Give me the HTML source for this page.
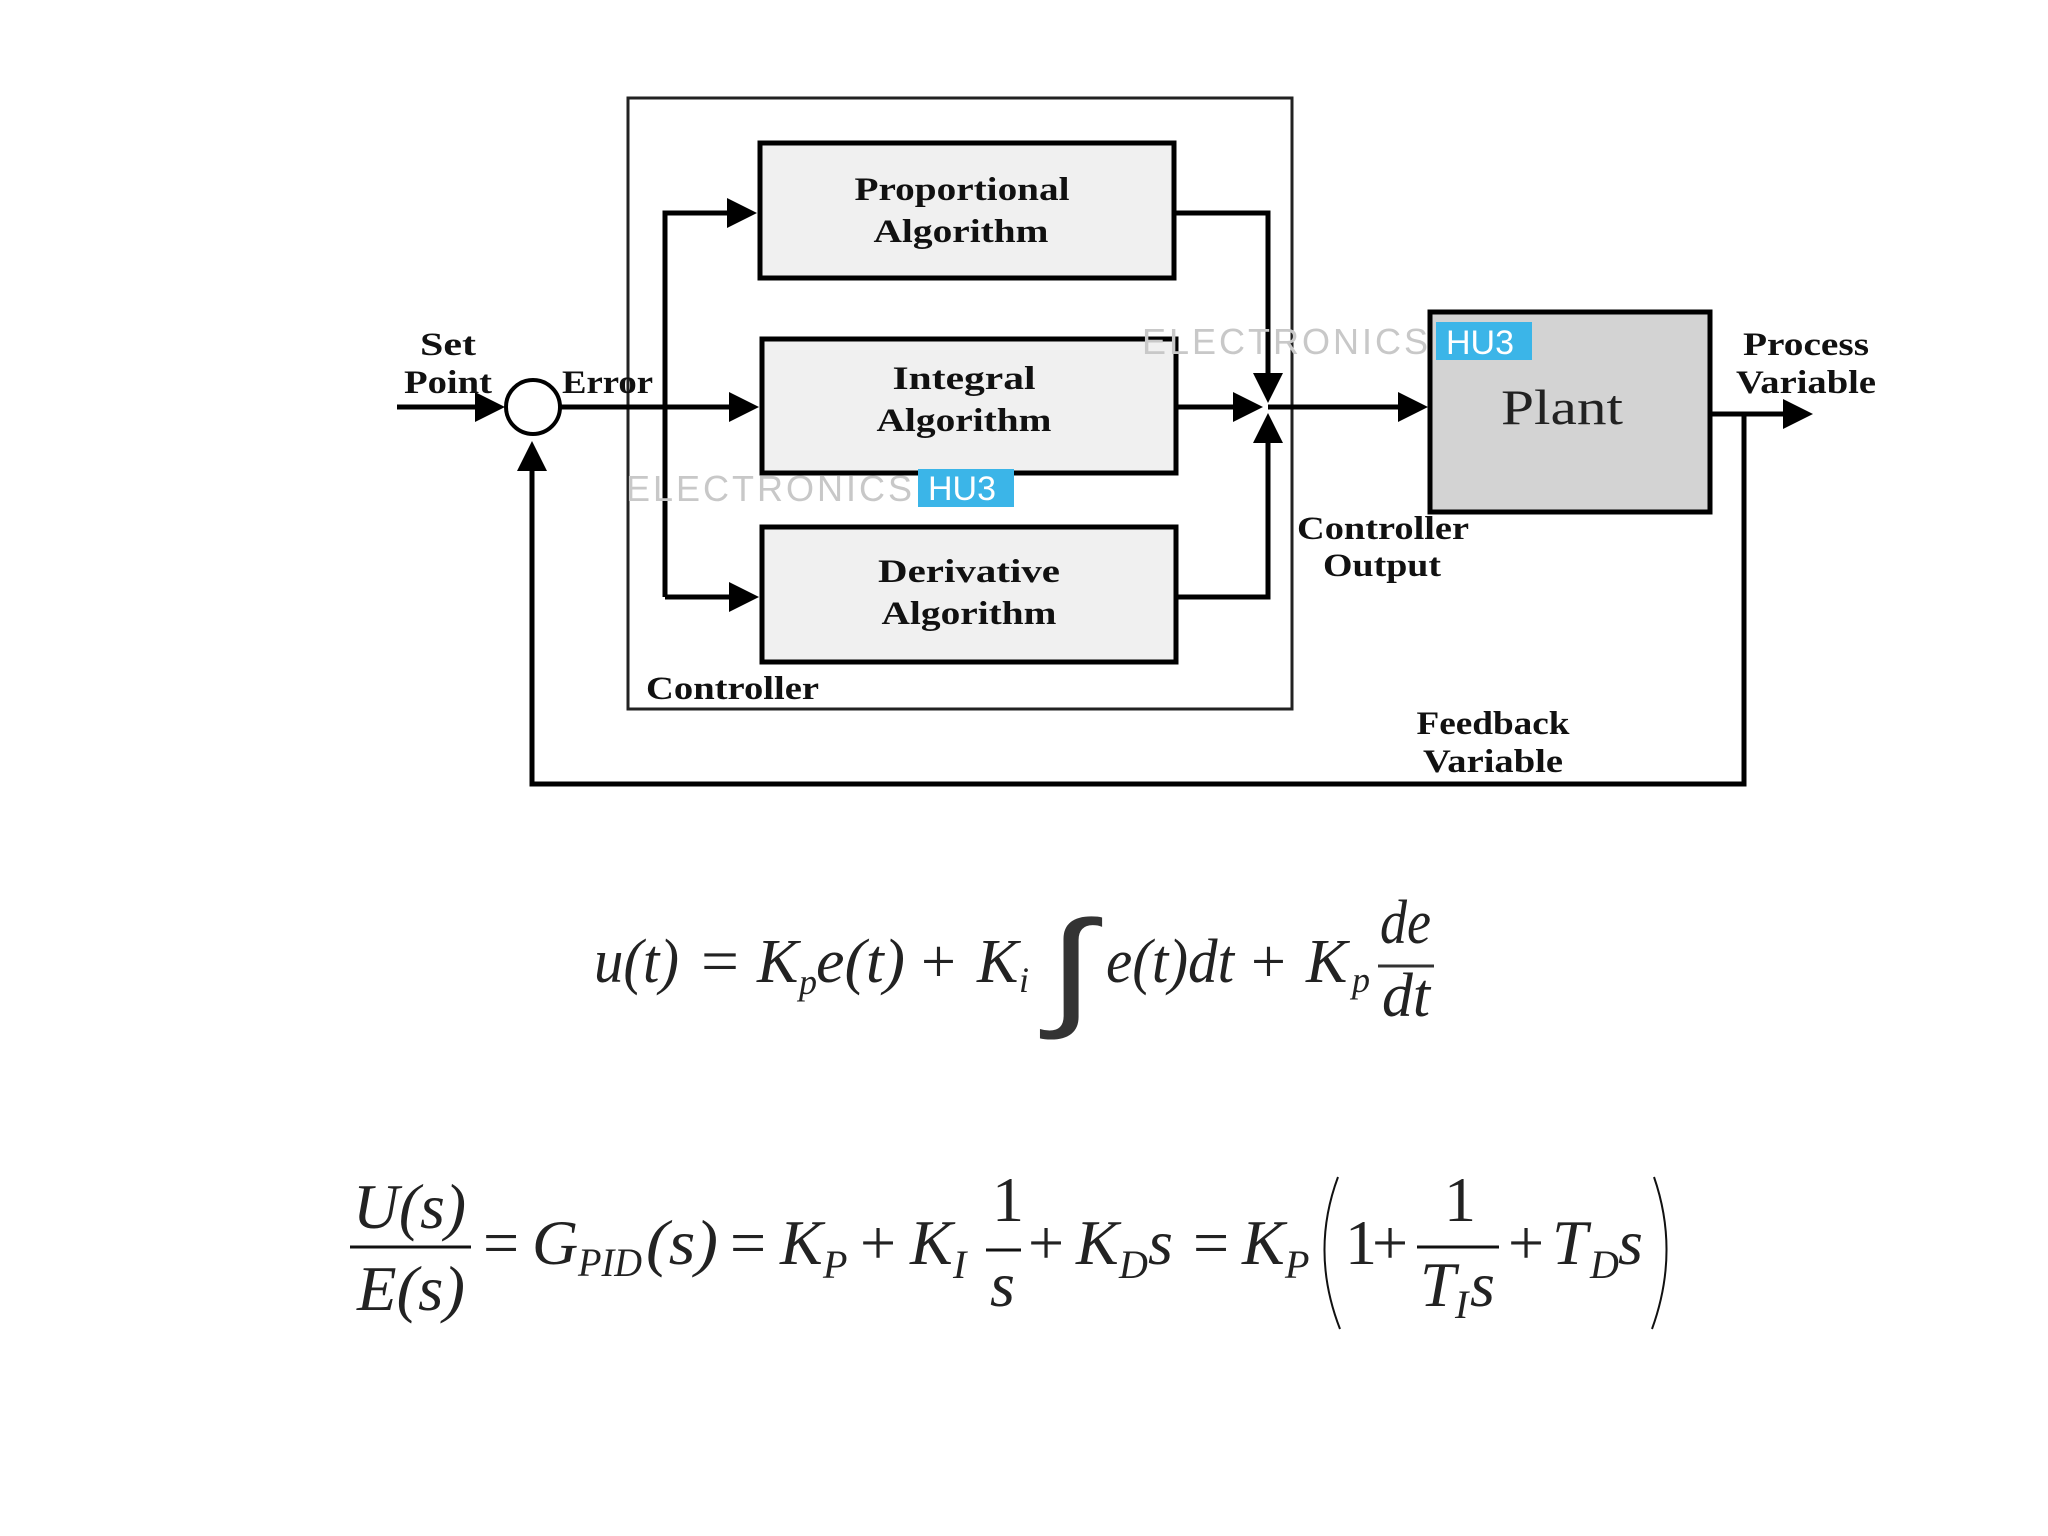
<!DOCTYPE html>
<html><head><meta charset="utf-8"><style>
html,body{margin:0;padding:0;background:#fff;width:2048px;height:1536px;overflow:hidden}
svg{display:block}
.b{font-family:"Liberation Serif",serif;font-weight:bold;fill:#111}
.m{font-family:"Liberation Serif",serif;font-style:italic;fill:#222}
.r{font-family:"Liberation Serif",serif;font-style:normal;fill:#222}
</style></head><body>
<svg width="2048" height="1536" viewBox="0 0 2048 1536" xmlns="http://www.w3.org/2000/svg">
<defs><marker id="a" markerWidth="6" markerHeight="6" refX="5" refY="3" orient="auto" markerUnits="strokeWidth"><path d="M0,0 L6,3 L0,6 z" fill="#000"/></marker></defs>
<rect x="628" y="98" width="664" height="611" fill="none" stroke="#222" stroke-width="3"/>
<rect x="760" y="143" width="414" height="135" fill="#f0f0f0" stroke="#000" stroke-width="5"/>
<rect x="762" y="339" width="414" height="134" fill="#f0f0f0" stroke="#000" stroke-width="5"/>
<rect x="762" y="527" width="414" height="135" fill="#f0f0f0" stroke="#000" stroke-width="5"/>
<rect x="1430" y="312" width="280" height="200" fill="#d3d3d3" stroke="#000" stroke-width="5"/>
<circle cx="533" cy="407" r="27" fill="#fff" stroke="#000" stroke-width="4"/>
<g stroke="#000" stroke-width="5" fill="none">
<line x1="397" y1="407" x2="500" y2="407" marker-end="url(#a)"/>
<line x1="560" y1="407" x2="754" y2="407" marker-end="url(#a)"/>
<polyline points="665,597 665,213 752,213" marker-end="url(#a)"/>
<line x1="665" y1="597" x2="754" y2="597" marker-end="url(#a)"/>
<polyline points="1176,213 1268,213 1268,398" marker-end="url(#a)"/>
<polyline points="1178,597 1268,597 1268,418" marker-end="url(#a)"/>
<line x1="1178" y1="407" x2="1258" y2="407" marker-end="url(#a)"/>
<line x1="1268" y1="407" x2="1423" y2="407" marker-end="url(#a)"/>
<line x1="1712" y1="414" x2="1808" y2="414" marker-end="url(#a)"/>
<polyline points="1744,414 1744,784 532,784 532,446" marker-end="url(#a)"/>
</g>
<text x="1142" y="354" font-family="Liberation Sans,sans-serif" font-size="36" fill="#c8c8c8" letter-spacing="3">ELECTRONICS</text>
<rect x="1436" y="322" width="96" height="38" fill="#3bb5e8"/>
<text x="1446" y="354" font-family="Liberation Sans,sans-serif" font-size="34" fill="#fff">HU3</text>
<text x="626" y="501" font-family="Liberation Sans,sans-serif" font-size="36" fill="#c8c8c8" letter-spacing="3">ELECTRONICS</text>
<rect x="918" y="469" width="96" height="38" fill="#3bb5e8"/>
<text x="928" y="500" font-family="Liberation Sans,sans-serif" font-size="34" fill="#fff">HU3</text>
<g class="b" font-size="33" text-anchor="middle">
<text x="962" y="200" textLength="215" lengthAdjust="spacingAndGlyphs">Proportional</text>
<text x="961" y="242" textLength="175" lengthAdjust="spacingAndGlyphs">Algorithm</text>
<text x="964" y="389" textLength="143" lengthAdjust="spacingAndGlyphs">Integral</text>
<text x="964" y="431" textLength="175" lengthAdjust="spacingAndGlyphs">Algorithm</text>
<text x="969" y="582" textLength="182" lengthAdjust="spacingAndGlyphs">Derivative</text>
<text x="969" y="624" textLength="175" lengthAdjust="spacingAndGlyphs">Algorithm</text>
<text x="448" y="355" textLength="56" lengthAdjust="spacingAndGlyphs">Set</text>
<text x="448" y="393" textLength="88" lengthAdjust="spacingAndGlyphs">Point</text>
<text x="1806" y="355" textLength="126" lengthAdjust="spacingAndGlyphs">Process</text>
<text x="1806" y="393" textLength="140" lengthAdjust="spacingAndGlyphs">Variable</text>
<text x="1382" y="576" textLength="118" lengthAdjust="spacingAndGlyphs">Output</text>
<text x="1493" y="734" textLength="153" lengthAdjust="spacingAndGlyphs">Feedback</text>
<text x="1493" y="772" textLength="140" lengthAdjust="spacingAndGlyphs">Variable</text>
</g>
<g class="b" font-size="33">
<text x="562" y="393" textLength="91" lengthAdjust="spacingAndGlyphs">Error</text>
<text x="1297" y="539" textLength="172" lengthAdjust="spacingAndGlyphs">Controller</text>
<text x="646" y="699" textLength="173" lengthAdjust="spacingAndGlyphs">Controller</text>
</g>
<text x="1562" y="424" class="r" font-size="50" text-anchor="middle" fill="#111" textLength="122" lengthAdjust="spacingAndGlyphs">Plant</text>
<g class="m" font-size="62" fill="#333">
<text x="594" y="982" textLength="85" lengthAdjust="spacingAndGlyphs">u(t)</text>
<text x="701" y="982" class="r" textLength="38" lengthAdjust="spacingAndGlyphs" fill="#777">=</text>
<text x="757" y="982">K</text>
<text x="799" y="994" font-size="36">p</text>
<text x="816" y="982" textLength="89" lengthAdjust="spacingAndGlyphs">e(t)</text>
<text x="921" y="982" class="r">+</text>
<text x="977" y="982">K</text>
<text x="1019" y="992" font-size="36">i</text>
<text x="1048" y="1012" font-size="130" font-family="DejaVu Sans,sans-serif" font-style="normal" font-weight="200" fill="#333" textLength="46" lengthAdjust="spacingAndGlyphs">∫</text>
<text x="1106" y="982" textLength="128" lengthAdjust="spacingAndGlyphs">e(t)dt</text>
<text x="1251" y="982" class="r">+</text>
<text x="1306" y="982">K</text>
<text x="1352" y="992" font-size="36">p</text>
<text x="1380" y="943" textLength="51" lengthAdjust="spacingAndGlyphs">de</text>
<text x="1382" y="1016" textLength="48" lengthAdjust="spacingAndGlyphs">dt</text>
</g>
<line x1="1378" y1="966" x2="1434" y2="966" stroke="#333" stroke-width="3"/>
<g class="m" font-size="64" fill="#111">
<text x="353" y="1228" textLength="113" lengthAdjust="spacingAndGlyphs">U(s)</text>
<text x="357" y="1310" textLength="108" lengthAdjust="spacingAndGlyphs">E(s)</text>
<text x="483" y="1264" class="r">=</text>
<text x="532" y="1264">G</text>
<text x="578" y="1276" font-size="40" textLength="64" lengthAdjust="spacingAndGlyphs">PID</text>
<text x="646" y="1264" textLength="72" lengthAdjust="spacingAndGlyphs">(s)</text>
<text x="730" y="1264" class="r">=</text>
<text x="780" y="1264">K</text>
<text x="823" y="1278" font-size="40">P</text>
<text x="860" y="1264" class="r">+</text>
<text x="910" y="1264">K</text>
<text x="953" y="1278" font-size="40">I</text>
<text x="992" y="1221" class="r">1</text>
<text x="990" y="1306">s</text>
<text x="1028" y="1264" class="r">+</text>
<text x="1076" y="1264">K</text>
<text x="1119" y="1278" font-size="40">D</text>
<text x="1148" y="1264">s</text>
<text x="1193" y="1264" class="r">=</text>
<text x="1242" y="1264">K</text>
<text x="1285" y="1278" font-size="40">P</text>
<text x="1345" y="1264" class="r">1</text>
<text x="1372" y="1264" class="r">+</text>
<text x="1444" y="1221" class="r">1</text>
<text x="1420" y="1306">T</text>
<text x="1455" y="1318" font-size="40">I</text>
<text x="1470" y="1306">s</text>
<text x="1508" y="1264" class="r">+</text>
<text x="1552" y="1264">T</text>
<text x="1590" y="1278" font-size="40">D</text>
<text x="1618" y="1264">s</text>
</g>
<g stroke="#111" stroke-width="3" fill="none">
<line x1="350" y1="1247" x2="471" y2="1247"/>
<line x1="986" y1="1250" x2="1021" y2="1250"/>
<line x1="1417" y1="1247" x2="1499" y2="1247"/>
<path d="M1338,1177 Q1310,1252 1340,1329" stroke-width="2"/>
<path d="M1654,1177 Q1680,1252 1652,1329" stroke-width="2"/>
</g>
</svg>
</body></html>
